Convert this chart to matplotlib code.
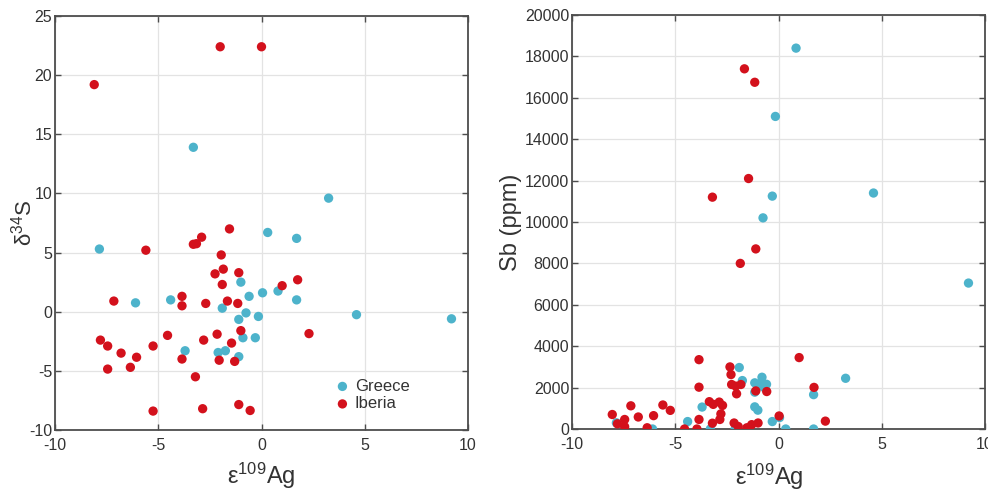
import matplotlib
matplotlib.use("Agg")
import matplotlib.pyplot as plt

plt.rcParams['font.family'] = ['Liberation Sans', 'DejaVu Sans']
plt.rcParams['mathtext.default'] = 'regular'
plt.rcParams['axes.unicode_minus'] = False

# Left panel: eps109Ag vs d34S
greece_ag_s = [-7.85, -3.3, 3.25, 0.3, 1.7, -1.0, 0.8, 0.05, -0.6, 1.7, -6.1, -4.4,
               -1.9, -0.75, -0.15, 4.6, 9.2, -1.1, -0.9, -0.3, -3.7, -2.1, -1.75, -1.1]
greece_s = [5.3, 13.9, 9.6, 6.7, 6.2, 2.5, 1.75, 1.6, 1.3, 1.0, 0.75, 1.0,
            0.3, -0.1, -0.4, -0.25, -0.6, -0.65, -2.2, -2.2, -3.3, -3.45, -3.3, -3.8]
iberia_ag_s = [-2.0, 0.0, -8.1, -1.55, -2.9, -3.3, -3.15, -5.6, -1.95, -1.85, -2.25, -1.1,
               -1.9, 1.75, 1.0, -3.85, -7.15, -2.7, -1.65, -1.15, -3.85,
               -1.0, 2.3, -2.15, -4.55, -7.8, -2.8, -1.45, -7.45, -5.25, -6.8, -6.05,
               -3.85, -2.05, -1.3, -6.35, -7.45, -3.2, -1.1, -2.85, -5.25, -0.55]
iberia_s = [22.4, 22.4, 19.2, 7.0, 6.3, 5.7, 5.75, 5.2, 4.8, 3.6, 3.2, 3.3,
            2.3, 2.7, 2.2, 1.3, 0.9, 0.7, 0.9, 0.7, 0.5,
            -1.6, -1.85, -1.9, -2.0, -2.4, -2.4, -2.65, -2.9, -2.9, -3.5, -3.85,
            -4.0, -4.1, -4.2, -4.7, -4.85, -5.5, -7.85, -8.2, -8.4, -8.35]

# Right panel: eps109Ag vs Sb (ppm)
greece_ag_sb = [0.85, -0.15, -0.3, 4.6, -0.75, 9.2, -1.9, -0.8, 3.25, -1.75, -1.15, -0.9,
                -0.58, -0.72, -1.15, 1.7, -3.7, -1.15, -1.0, 0.05, -7.85, -6.1, -4.4,
                -3.3, -2.1, -0.3, 0.35, 1.7]
greece_sb = [18400, 15100, 11250, 11400, 10200, 7050, 2970, 2500, 2450, 2340, 2230, 2160,
             2160, 2020, 1780, 1660, 1060, 1070, 910, 550, 300, 0, 360,
             0, 0, 360, 0, 0]
iberia_ag_sb = [-1.65, -1.15, -1.45, -3.2, -1.1, -1.85, -3.85, 1.0, -2.35, -2.3, -2.27, -2.07,
                -1.82, -3.85, 1.72, -1.1, -0.57, -2.03, -7.15, -5.6, -5.24, -3.35, -3.16,
                -2.87, -2.71, -2.79, -2.84, -8.05, -6.79, -6.05, 0.03, -7.8, -7.45, -7.45,
                -6.36, -4.55, -3.95, -3.85, -3.2, -2.15, -1.95, -1.53, -1.3, -0.99, 2.27]
iberia_sb = [17400, 16750, 12100, 11200, 8700, 8000, 3350, 3450, 3000, 2630, 2150, 2070,
             2150, 2020, 2010, 1840, 1810, 1700, 1120, 1160, 900, 1320, 1190,
             1300, 1140, 730, 460, 700, 580, 645, 630, 250, 460, 110,
             60, 0, 0, 460, 280, 290, 120, 60, 210, 290, 380]

labels = ['Greece', 'Iberia']
c_gr = '#4DB3CB'
c_ib = '#D3111C'
spine_c = '#4d4d4d'
text_c = '#333333'

fig = plt.figure(figsize=(9.88, 4.98), dpi=100)
ax1 = fig.add_axes([55/988, 68/498, 413/988, 414/498])
ax2 = fig.add_axes([572/988, 69/498, 413/988, 414/498])

def style(ax):
    ax.grid(True, color='#e3e3e3', linewidth=0.9)
    ax.set_axisbelow(True)
    for sp in ax.spines.values():
        sp.set_color(spine_c)
        sp.set_linewidth(1.3)
    ax.tick_params(direction='in', length=4, width=1.0, color=spine_c,
                   top=True, right=True, labelsize=11.5, labelcolor=text_c)
    ax.tick_params(axis='y', pad=2)
    ax.tick_params(axis='x', pad=6)
    ax.set_xlim(-10, 10)
    ax.set_xticks([-10, -5, 0, 5, 10])

ms = 45
ax1.scatter(greece_ag_s, greece_s, s=ms, color=c_gr, edgecolors='none', label=labels[0], zorder=3)
ax1.scatter(iberia_ag_s, iberia_s, s=ms, color=c_ib, edgecolors='none', label=labels[1], zorder=3)
style(ax1)
ax1.set_ylim(-10, 25)
ax1.set_yticks(range(-10, 26, 5))
ax1.set_xlabel('ε$^{109}$Ag', fontsize=17, color=text_c)
ax1.xaxis.set_label_coords(0.5, -0.074)
ax1.set_ylabel('δ$^{34}$S', fontsize=16, color=text_c)
ax1.yaxis.set_label_coords(-0.045, 0.5)
leg = ax1.legend(loc='lower right', bbox_to_anchor=(0.887, 0.017), frameon=False,
                 fontsize=12, handlelength=1.0, handletextpad=0.25, borderpad=0.2,
                 labelspacing=0.15, scatterpoints=1)
for t in leg.get_texts():
    t.set_color(text_c)

ax2.scatter(greece_ag_sb, greece_sb, s=ms, color=c_gr, edgecolors='none', zorder=3)
ax2.scatter(iberia_ag_sb, iberia_sb, s=ms, color=c_ib, edgecolors='none', zorder=3)
style(ax2)
ax2.set_ylim(0, 20000)
ax2.set_yticks(range(0, 20001, 2000))
ax2.set_xlabel('ε$^{109}$Ag', fontsize=17, color=text_c)
ax2.xaxis.set_label_coords(0.478, -0.080)
ax2.set_ylabel('Sb (ppm)', fontsize=17, color=text_c)
ax2.yaxis.set_label_coords(-0.121, 0.5)

fig.savefig('out.png', dpi=100)
